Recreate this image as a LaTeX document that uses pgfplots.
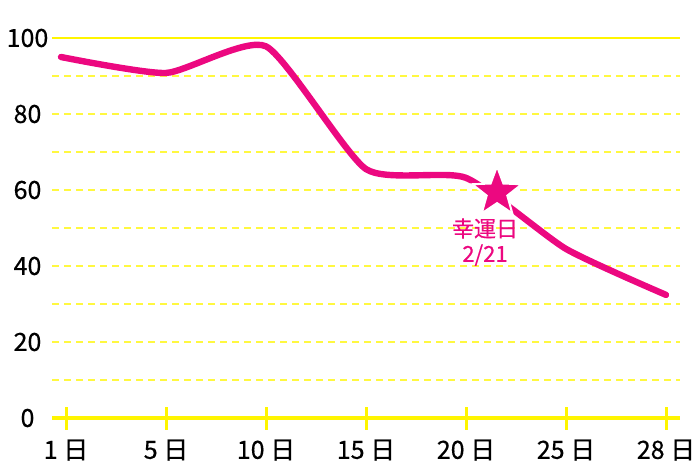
\documentclass[border=0pt]{standalone}
\usepackage{pgfplots}
\pgfplotsset{compat=1.18}
\usepackage{fontspec}
\setmainfont{Noto Sans CJK JP}
\newfontfamily\tickfont{Noto Sans CJK JP}[FakeBold=0.5]
\usetikzlibrary{shapes.geometric}
\definecolor{ylw}{RGB}{255,245,0}
\definecolor{pnk}{RGB}{236,8,128}
\pgfdeclareplotmark{luckystar}{\node[star,star points=5,star point ratio=2.4,fill=pnk,draw=white,line width=1pt,inner sep=0pt,minimum size=26pt]{};}
\begin{document}
\begin{tikzpicture}
\useasboundingbox (0,0) rectangle (350pt,233.5pt);
\begin{axis}[at={(26pt,24.5pt)},anchor=south west,scale only axis,
  width=314pt,height=190pt,
  xmin=-0.14,xmax=6.14,ymin=0,ymax=100,
  axis x line*=bottom,axis y line*=left,
  x axis line style={ylw,line width=2pt},
  y axis line style={draw=none},
  xtick={0,1,2,3,4,5,6},
  xticklabels={1 日,5 日,10 日,15 日,20 日,25 日,28 日},
  ytick={0,20,40,60,80,100},minor ytick={10,30,50,70,90},
  ytick style={draw=none},minor tick length=0pt,
  xtick style={ylw,line width=1.5pt},
  tick align=center,major tick length=11.5pt,
  ymajorgrids,yminorgrids,
  major grid style={ylw!75,line width=0.8pt,dash pattern=on 3.5pt off 2.5pt},
  minor grid style={ylw!75,line width=0.8pt,dash pattern=on 3.5pt off 2.5pt},
  /pgf/number format/assume math mode=true,
  tick label style={font=\tickfont\fontsize{12.5}{14}\selectfont},
  xticklabel style={anchor=center,yshift=-16pt+5.75pt},
  yticklabel style={anchor=center,xshift=-6.5pt},
  clip=false]
\draw[ylw,line width=1pt] (rel axis cs:0,1) -- (rel axis cs:1,1);
\addplot[pnk,line width=3.2pt,smooth,tension=0.35,line cap=round] coordinates {
  (-0.05,95) (1,90.8) (2,97.8) (3,65.5) (4,63.2) (5,44.5) (6,32.4)};
\addplot[only marks,mark=luckystar] coordinates {(4.31,59.4)};
\node[pnk,align=center,font=\tickfont\fontsize{11}{12.5}\selectfont] at (axis cs:4.19,46.3) {幸運日\\2/21};
\end{axis}
\end{tikzpicture}
\end{document}
